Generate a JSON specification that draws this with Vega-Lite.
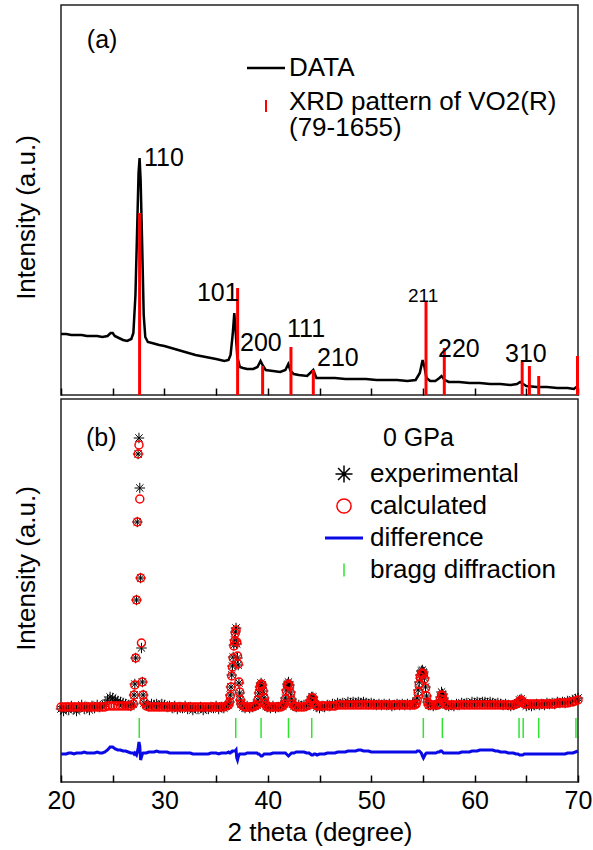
{
  "$schema": "https://vega.github.io/schema/vega-lite/v6.json",
  "padding": {"left": 12, "top": 4, "right": 0, "bottom": 0},
  "spacing": 0,
  "config": {
    "font": "Liberation Sans",
    "view": {"stroke": "#222222", "strokeWidth": 1.5},
    "axis": {"grid": false, "domain": false, "labelColor": "black", "titleColor": "black", "tickColor": "black", "titleFontWeight": "normal", "labelFlush": false},
    "legend": {"labelColor": "black"}
  },
  "resolve": {"scale": {"color": "independent", "x": "independent", "y": "independent"}, "legend": {"color": "independent"}},
  "datasets": {
    "dataA": [
      {"t":20.0,"i":61},{"t":20.5,"i":61},{"t":21.0,"i":60},{"t":21.5,"i":60},{"t":22.0,"i":60},{"t":22.5,"i":59},{"t":23.0,"i":59},{"t":23.5,"i":59},{"t":24.0,"i":58},{"t":24.5,"i":59},{"t":24.8,"i":62},{"t":25.0,"i":62},{"t":25.2,"i":59},{"t":25.6,"i":57},{"t":26.0,"i":55},{"t":26.4,"i":54},{"t":26.8,"i":56},{"t":27.0,"i":62},{"t":27.2,"i":100},{"t":27.35,"i":160},{"t":27.5,"i":222},{"t":27.6,"i":237},{"t":27.7,"i":215},{"t":27.85,"i":150},{"t":28.0,"i":80},{"t":28.15,"i":58},{"t":28.4,"i":53},{"t":28.8,"i":52},{"t":29.5,"i":50},{"t":30.0,"i":49},{"t":31.0,"i":46},{"t":32.0,"i":43},{"t":33.0,"i":40},{"t":34.0,"i":38},{"t":35.0,"i":36},{"t":35.8,"i":34},{"t":36.2,"i":35},{"t":36.4,"i":40},{"t":36.6,"i":60},{"t":36.76,"i":82},{"t":36.9,"i":62},{"t":37.05,"i":38},{"t":37.3,"i":28},{"t":37.6,"i":27},{"t":38.0,"i":26},{"t":38.6,"i":26},{"t":39.0,"i":28},{"t":39.3,"i":34},{"t":39.55,"i":29},{"t":39.8,"i":25},{"t":40.5,"i":24},{"t":41.2,"i":23},{"t":41.7,"i":25},{"t":41.98,"i":31},{"t":42.2,"i":24},{"t":42.5,"i":21},{"t":43.0,"i":20},{"t":43.8,"i":19},{"t":44.2,"i":23},{"t":44.4,"i":25},{"t":44.7,"i":17},{"t":45.5,"i":17},{"t":46.5,"i":17},{"t":47.5,"i":16},{"t":48.5,"i":16},{"t":49.5,"i":16},{"t":50.5,"i":15},{"t":51.5,"i":15},{"t":52.5,"i":15},{"t":53.5,"i":14},{"t":54.3,"i":15},{"t":54.7,"i":22},{"t":54.97,"i":35},{"t":55.15,"i":28},{"t":55.35,"i":17},{"t":55.7,"i":14},{"t":56.2,"i":14},{"t":56.6,"i":17},{"t":56.8,"i":19},{"t":57.1,"i":15},{"t":57.5,"i":13},{"t":58.5,"i":13},{"t":59.5,"i":12},{"t":60.5,"i":12},{"t":61.5,"i":11},{"t":62.5,"i":11},{"t":63.5,"i":10},{"t":64.1,"i":11},{"t":64.4,"i":13},{"t":64.7,"i":11},{"t":65.0,"i":9},{"t":66.0,"i":8},{"t":67.0,"i":8},{"t":68.0,"i":7},{"t":69.0,"i":7},{"t":69.6,"i":6},{"t":69.85,"i":8},{"t":70.0,"i":9}
    ],
    "refA": [
      {"t":27.6,"h":182},{"t":37.08,"h":107},{"t":39.5,"h":29},{"t":42.24,"h":48},{"t":44.4,"h":25},{"t":55.3,"h":94},{"t":57.07,"h":47},{"t":64.6,"h":33},{"t":65.3,"h":29},{"t":66.2,"h":19},{"t":69.95,"h":39}
    ],
    "labelsA": [
      {"t":22.5,"y":355,"label":"(a)"},{"t":28.03,"y":237,"label":"110"},{"t":33.15,"y":102,"label":"101"},{"t":37.31,"y":52,"label":"200"},{"t":41.86,"y":66,"label":"111"},{"t":44.76,"y":37,"label":"210"},{"t":53.56,"y":99,"label":"211"},{"t":56.46,"y":46,"label":"220"},{"t":62.94,"y":41,"label":"310"}
    ],
    "profB": [
      {"t":20.0,"o":73,"c":75,"d":28},{"t":20.25,"o":71,"c":75,"d":28},{"t":20.5,"o":74,"c":75,"d":28},{"t":20.75,"o":72,"c":75,"d":29},{"t":21.0,"o":76,"c":75,"d":29},{"t":21.25,"o":73,"c":75,"d":28},{"t":21.5,"o":71,"c":75,"d":29},{"t":21.75,"o":74,"c":75,"d":29},{"t":22.0,"o":77,"c":75,"d":29},{"t":22.25,"o":73,"c":75,"d":30},{"t":22.5,"o":75,"c":75,"d":29},{"t":22.75,"o":72,"c":75,"d":29},{"t":23.0,"o":76,"c":75,"d":29},{"t":23.25,"o":74,"c":75,"d":29},{"t":23.5,"o":77,"c":75,"d":30},{"t":23.75,"o":75,"c":75,"d":29},{"t":24.0,"o":76,"c":75,"d":29},{"t":24.25,"o":78,"c":75,"d":30},{"t":24.5,"o":82,"c":76,"d":32},{"t":24.75,"o":85,"c":76,"d":35},{"t":25.0,"o":84,"c":76,"d":35},{"t":25.25,"o":82,"c":76,"d":33},{"t":25.5,"o":81,"c":76,"d":32},{"t":25.75,"o":80,"c":76,"d":32},{"t":26.0,"o":79,"c":76,"d":31},{"t":26.25,"o":78,"c":76,"d":31},{"t":26.5,"o":77,"c":76,"d":30},{"t":26.75,"o":76,"c":76,"d":29},
      {"t":27.0,"o":78,"c":78,"d":29},{"t":27.07,"o":87,"c":87,"d":28},{"t":27.14,"o":98,"c":97,"d":29},{"t":27.22,"o":124,"c":124,"d":28},{"t":27.3,"o":182,"c":182,"d":27},{"t":27.38,"o":260,"c":260,"d":30},{"t":27.46,"o":328,"c":328,"d":34},{"t":27.54,"o":344,"c":337,"d":40},{"t":27.62,"o":294,"c":283,"d":36},{"t":27.7,"o":204,"c":204,"d":22},{"t":27.78,"o":134,"c":139,"d":25},{"t":27.87,"o":100,"c":100,"d":28},{"t":27.95,"o":87,"c":87,"d":29},{"t":28.03,"o":79,"c":80,"d":29},
      {"t":28.25,"o":77,"c":76,"d":29},{"t":28.5,"o":76,"c":75,"d":30},{"t":28.75,"o":78,"c":75,"d":30},{"t":29.0,"o":77,"c":75,"d":30},{"t":29.25,"o":78,"c":75,"d":31},{"t":29.5,"o":76,"c":75,"d":30},{"t":29.75,"o":78,"c":75,"d":30},{"t":30.0,"o":77,"c":75,"d":30},{"t":30.25,"o":75,"c":75,"d":30},{"t":30.5,"o":76,"c":75,"d":29},{"t":30.75,"o":74,"c":75,"d":29},{"t":31.0,"o":76,"c":75,"d":29},{"t":31.25,"o":73,"c":75,"d":29},{"t":31.5,"o":75,"c":75,"d":29},{"t":31.75,"o":74,"c":75,"d":29},{"t":32.0,"o":76,"c":75,"d":29},{"t":32.25,"o":73,"c":75,"d":29},{"t":32.5,"o":75,"c":75,"d":29},{"t":32.75,"o":72,"c":75,"d":28},{"t":33.0,"o":74,"c":75,"d":28},{"t":33.25,"o":73,"c":75,"d":28},{"t":33.5,"o":75,"c":75,"d":28},{"t":33.75,"o":72,"c":75,"d":28},{"t":34.0,"o":74,"c":75,"d":28},{"t":34.25,"o":73,"c":75,"d":28},{"t":34.5,"o":75,"c":75,"d":29},{"t":34.75,"o":74,"c":75,"d":29},{"t":35.0,"o":76,"c":75,"d":29},{"t":35.25,"o":73,"c":75,"d":28},{"t":35.5,"o":75,"c":75,"d":29},{"t":35.75,"o":74,"c":75,"d":29},{"t":36.0,"o":76,"c":76,"d":29},{"t":36.2,"o":77,"c":77,"d":30},
      {"t":36.3,"o":80,"c":80,"d":29},{"t":36.37,"o":87,"c":86,"d":29},{"t":36.44,"o":95,"c":95,"d":30},{"t":36.51,"o":107,"c":106,"d":30},{"t":36.58,"o":116,"c":115,"d":31},{"t":36.65,"o":125,"c":124,"d":31},{"t":36.72,"o":137,"c":136,"d":31},{"t":36.79,"o":142,"c":141,"d":31},{"t":36.86,"o":150,"c":149,"d":31},{"t":36.93,"o":154,"c":152,"d":32},{"t":37.0,"o":138,"c":140,"d":24},{"t":37.07,"o":124,"c":126,"d":22},{"t":37.14,"o":117,"c":118,"d":25},{"t":37.21,"o":99,"c":100,"d":27},{"t":37.28,"o":89,"c":90,"d":28},{"t":37.35,"o":82,"c":82,"d":28},{"t":37.42,"o":78,"c":78,"d":28},
      {"t":37.6,"o":75,"c":76,"d":28},{"t":37.8,"o":74,"c":75,"d":28},{"t":38.0,"o":76,"c":75,"d":29},{"t":38.25,"o":74,"c":75,"d":29},{"t":38.5,"o":75,"c":75,"d":29},{"t":38.75,"o":76,"c":76,"d":29},
      {"t":38.95,"o":77,"c":77,"d":29},{"t":39.05,"o":82,"c":82,"d":28},{"t":39.15,"o":89,"c":89,"d":28},{"t":39.25,"o":95,"c":95,"d":27},{"t":39.35,"o":99,"c":98,"d":26},{"t":39.45,"o":97,"c":97,"d":26},{"t":39.55,"o":91,"c":91,"d":27},{"t":39.65,"o":84,"c":84,"d":28},{"t":39.75,"o":79,"c":79,"d":28},{"t":39.85,"o":76,"c":76,"d":28},
      {"t":40.0,"o":75,"c":75,"d":28},{"t":40.25,"o":74,"c":75,"d":28},{"t":40.5,"o":76,"c":75,"d":29},{"t":40.75,"o":74,"c":75,"d":29},{"t":41.0,"o":75,"c":75,"d":29},{"t":41.25,"o":76,"c":75,"d":29},{"t":41.45,"o":76,"c":76,"d":29},
      {"t":41.6,"o":78,"c":78,"d":29},{"t":41.7,"o":84,"c":83,"d":29},{"t":41.8,"o":92,"c":91,"d":28},{"t":41.9,"o":98,"c":97,"d":27},{"t":42.0,"o":100,"c":98,"d":26},{"t":42.1,"o":97,"c":96,"d":27},{"t":42.2,"o":90,"c":89,"d":28},{"t":42.3,"o":83,"c":82,"d":29},{"t":42.4,"o":78,"c":78,"d":29},
      {"t":42.55,"o":76,"c":76,"d":29},{"t":42.75,"o":75,"c":75,"d":30},{"t":43.0,"o":77,"c":75,"d":30},{"t":43.25,"o":76,"c":75,"d":30},{"t":43.5,"o":77,"c":75,"d":30},{"t":43.75,"o":76,"c":76,"d":29},
      {"t":44.0,"o":78,"c":77,"d":29},{"t":44.12,"o":82,"c":81,"d":28},{"t":44.24,"o":85,"c":84,"d":27},{"t":44.36,"o":85,"c":84,"d":27},{"t":44.48,"o":81,"c":80,"d":28},{"t":44.6,"o":77,"c":77,"d":28},
      {"t":44.75,"o":75,"c":76,"d":27},{"t":45.0,"o":74,"c":76,"d":28},{"t":45.25,"o":76,"c":76,"d":28},{"t":45.5,"o":75,"c":76,"d":28},{"t":45.75,"o":77,"c":76,"d":29},{"t":46.0,"o":76,"c":76,"d":29},{"t":46.25,"o":78,"c":76,"d":29},{"t":46.5,"o":77,"c":76,"d":29},{"t":46.75,"o":79,"c":77,"d":30},{"t":47.0,"o":78,"c":77,"d":30},{"t":47.25,"o":79,"c":77,"d":30},{"t":47.5,"o":78,"c":77,"d":30},{"t":47.75,"o":80,"c":77,"d":31},{"t":48.0,"o":79,"c":77,"d":31},{"t":48.25,"o":80,"c":77,"d":31},{"t":48.5,"o":79,"c":77,"d":31},{"t":48.75,"o":80,"c":77,"d":32},{"t":49.0,"o":79,"c":77,"d":32},{"t":49.25,"o":80,"c":77,"d":31},{"t":49.5,"o":79,"c":77,"d":31},{"t":49.75,"o":78,"c":77,"d":31},{"t":50.0,"o":79,"c":77,"d":30},{"t":50.25,"o":78,"c":77,"d":30},{"t":50.5,"o":77,"c":77,"d":30},{"t":50.75,"o":78,"c":77,"d":30},{"t":51.0,"o":77,"c":77,"d":30},{"t":51.25,"o":78,"c":77,"d":30},{"t":51.5,"o":77,"c":77,"d":30},{"t":51.75,"o":78,"c":77,"d":30},{"t":52.0,"o":76,"c":77,"d":30},{"t":52.25,"o":77,"c":77,"d":30},{"t":52.5,"o":78,"c":77,"d":30},{"t":52.75,"o":77,"c":77,"d":30},{"t":53.0,"o":78,"c":77,"d":30},{"t":53.25,"o":77,"c":77,"d":30},{"t":53.5,"o":78,"c":77,"d":30},{"t":53.75,"o":77,"c":77,"d":30},{"t":54.0,"o":78,"c":77,"d":30},{"t":54.2,"o":78,"c":77,"d":30},
      {"t":54.35,"o":79,"c":78,"d":30},{"t":54.45,"o":84,"c":82,"d":31},{"t":54.55,"o":92,"c":90,"d":31},{"t":54.65,"o":100,"c":98,"d":31},{"t":54.75,"o":107,"c":105,"d":30},{"t":54.85,"o":111,"c":108,"d":29},{"t":54.95,"o":112,"c":109,"d":26},{"t":55.05,"o":110,"c":108,"d":24},{"t":55.15,"o":104,"c":103,"d":26},{"t":55.25,"o":95,"c":94,"d":28},{"t":55.35,"o":86,"c":86,"d":29},{"t":55.45,"o":80,"c":80,"d":29},{"t":55.55,"o":77,"c":77,"d":29},
      {"t":55.75,"o":77,"c":77,"d":29},{"t":56.0,"o":76,"c":77,"d":29},{"t":56.25,"o":77,"c":77,"d":29},{"t":56.45,"o":78,"c":77,"d":30},
      {"t":56.6,"o":79,"c":78,"d":30},{"t":56.7,"o":85,"c":83,"d":31},{"t":56.8,"o":90,"c":87,"d":31},{"t":56.9,"o":88,"c":86,"d":30},{"t":57.0,"o":84,"c":82,"d":29},{"t":57.1,"o":79,"c":79,"d":29},
      {"t":57.25,"o":77,"c":77,"d":29},{"t":57.5,"o":76,"c":77,"d":29},{"t":57.75,"o":77,"c":77,"d":29},{"t":58.0,"o":76,"c":77,"d":29},{"t":58.25,"o":78,"c":77,"d":29},{"t":58.5,"o":77,"c":77,"d":29},{"t":58.75,"o":79,"c":77,"d":30},{"t":59.0,"o":78,"c":77,"d":30},{"t":59.25,"o":79,"c":77,"d":30},{"t":59.5,"o":78,"c":77,"d":30},{"t":59.75,"o":80,"c":77,"d":31},{"t":60.0,"o":79,"c":77,"d":31},{"t":60.25,"o":80,"c":77,"d":31},{"t":60.5,"o":79,"c":77,"d":32},{"t":60.75,"o":80,"c":77,"d":32},{"t":61.0,"o":80,"c":77,"d":32},{"t":61.25,"o":79,"c":77,"d":32},{"t":61.5,"o":80,"c":77,"d":32},{"t":61.75,"o":79,"c":77,"d":32},{"t":62.0,"o":78,"c":77,"d":31},{"t":62.25,"o":79,"c":77,"d":31},{"t":62.5,"o":78,"c":77,"d":30},{"t":62.75,"o":77,"c":77,"d":30},{"t":63.0,"o":78,"c":77,"d":30},{"t":63.25,"o":77,"c":77,"d":29},{"t":63.5,"o":76,"c":77,"d":29},{"t":63.75,"o":77,"c":77,"d":29},{"t":64.0,"o":78,"c":78,"d":28},
      {"t":64.2,"o":79,"c":79,"d":28},{"t":64.35,"o":82,"c":81,"d":27},{"t":64.5,"o":83,"c":82,"d":27},{"t":64.65,"o":81,"c":80,"d":27},{"t":64.8,"o":79,"c":78,"d":28},
      {"t":65.0,"o":76,"c":78,"d":28},{"t":65.25,"o":77,"c":78,"d":28},{"t":65.5,"o":76,"c":78,"d":28},{"t":65.75,"o":77,"c":78,"d":28},{"t":66.0,"o":78,"c":78,"d":28},{"t":66.25,"o":77,"c":78,"d":28},{"t":66.5,"o":78,"c":78,"d":28},{"t":66.75,"o":77,"c":78,"d":28},{"t":67.0,"o":79,"c":78,"d":28},{"t":67.25,"o":78,"c":78,"d":28},{"t":67.5,"o":79,"c":78,"d":28},{"t":67.75,"o":78,"c":78,"d":28},{"t":68.0,"o":80,"c":79,"d":28},{"t":68.25,"o":79,"c":79,"d":28},{"t":68.5,"o":80,"c":79,"d":28},{"t":68.75,"o":79,"c":79,"d":28},{"t":69.0,"o":81,"c":79,"d":29},{"t":69.25,"o":80,"c":80,"d":29},{"t":69.5,"o":82,"c":80,"d":29},{"t":69.75,"o":83,"c":81,"d":30},{"t":70.0,"o":84,"c":82,"d":31}
    ],
    "braggB": [
      {"t":27.57},{"t":36.9},{"t":39.35},{"t":42.0},{"t":44.25},{"t":55.04},{"t":56.88},{"t":64.3},{"t":64.7},{"t":66.2},{"t":69.8}
    ],
    "labelsB": [
      {"t":22.42,"y":344,"label":"(b)"},{"t":51.14,"y":344,"label":"0 GPa"}
    ]
  },
  "vconcat": [
    {
      "width": 517,
      "height": 390,
      "layer": [
        {
          "data": {"name": "dataA"},
          "mark": {"type": "line", "strokeWidth": 2.5},
          "encoding": {
            "x": {"field": "t", "type": "quantitative", "scale": {"domain": [20, 70], "nice": false},
              "axis": {"values": [20,25,30,35,40,45,50,55,60,65,70], "labels": false, "title": null, "tickSize": -7, "tickWidth": 1.5}},
            "y": {"field": "i", "type": "quantitative", "scale": {"domain": [0, 390], "nice": false},
              "axis": {"title": "Intensity (a.u.)", "labels": false, "ticks": false, "titleFontSize": 26, "titlePadding": 22, "titleY": 212}},
            "color": {"datum": "DATA", "type": "nominal",
              "scale": {"domain": ["DATA", "XRD pattern of VO2(R)"], "range": ["#000000", "#ff0000"]},
              "legend": {
                "orient": "none", "legendX": 192, "legendY": 50, "title": null, "padding": 0,
                "symbolSize": 1444, "symbolStrokeWidth": 2.5, "labelFontSize": 26, "labelOffset": 10, "rowPadding": 8, "labelLimit": 500,
                "labelExpr": "datum.value == 'XRD pattern of VO2(R)' ? ['XRD pattern of VO2(R)', '(79-1655)'] : datum.label",
                "encode": {
                  "symbols": {"update": {
                    "shape": {"signal": "datum.value == 'DATA' ? 'stroke' : 'M0,-0.33L0,1.67'"},
                    "size": {"signal": "datum.value == 'DATA' ? 1444 : 144"},
                    "stroke": {"signal": "datum.value == 'DATA' ? '#000000' : '#ff0000'"},
                    "fill": {"value": "transparent"},
                    "strokeWidth": {"signal": "datum.value == 'DATA' ? 2.5 : 2"},
                    "opacity": {"value": 1}
                  }},
                  "labels": {"update": {
                    "lineHeight": {"value": 26}
                  }}
                }
              }}
          }
        },
        {
          "data": {"name": "refA"},
          "mark": {"type": "rule", "strokeWidth": 3},
          "encoding": {
            "x": {"field": "t", "type": "quantitative"},
            "y": {"field": "h", "type": "quantitative"},
            "y2": {"datum": 0},
            "color": {"datum": "XRD pattern of VO2(R)", "type": "nominal"}
          }
        },
        {
          "data": {"name": "labelsA"},
          "mark": {"type": "text", "align": "left", "baseline": "middle", "color": "black"},
          "encoding": {
            "x": {"field": "t", "type": "quantitative"},
            "y": {"field": "y", "type": "quantitative"},
            "text": {"field": "label"},
            "size": {"condition": {"test": "datum.label == '211'", "value": 19}, "value": 25}
          }
        }
      ]
    },
    {
      "width": 517,
      "height": 383,
      "layer": [
        {
          "data": {"name": "profB"},
          "mark": {"type": "line", "strokeWidth": 3},
          "encoding": {
            "x": {"field": "t", "type": "quantitative", "scale": {"domain": [20, 70], "nice": false},
              "axis": {"values": [20,25,30,35,40,45,50,55,60,65,70], "labelExpr": "datum.value % 10 == 0 ? datum.label : ''", "labelFontSize": 25, "labelPadding": 13, "tickSize": -7, "tickWidth": 1.5, "title": "2 theta (degree)", "titleFontSize": 26, "titlePadding": 6}},
            "y": {"field": "d", "type": "quantitative", "scale": {"domain": [0, 383], "nice": false},
              "axis": {"title": "Intensity (a.u.)", "labels": false, "ticks": false, "titleFontSize": 26, "titlePadding": 22, "titleY": 169}},
            "color": {"datum": "difference", "type": "nominal",
              "scale": {"domain": ["experimental", "calculated", "difference", "bragg diffraction"], "range": ["#000000", "#ff0000", "#0a0ae6", "#2ee62e"]},
              "legend": {
                "orient": "none", "legendX": 270, "legendY": 62, "title": null, "padding": 0,
                "symbolSize": 1444, "symbolStrokeWidth": 2, "labelFontSize": 26, "labelOffset": 13, "rowPadding": 6, "labelLimit": 500,
                "encode": {
                  "symbols": {"update": {
                    "shape": {"signal": "datum.value == 'experimental' ? 'M-1,0L1,0M0,-1L0,1M-0.7,-0.7L0.7,0.7M-0.7,0.7L0.7,-0.7' : datum.value == 'calculated' ? 'circle' : datum.value == 'difference' ? 'stroke' : 'M0,-1L0,1'"},
                    "size": {"signal": "datum.value == 'experimental' ? 289 : datum.value == 'calculated' ? 200 : datum.value == 'difference' ? 1444 : 169"},
                    "stroke": {"signal": "datum.value == 'experimental' ? '#000000' : datum.value == 'calculated' ? '#ff0000' : datum.value == 'difference' ? '#0a0ae6' : '#2ee62e'"},
                    "fill": {"value": "transparent"},
                    "strokeWidth": {"signal": "datum.value == 'difference' ? 3 : 1.5"},
                    "opacity": {"value": 1}
                  }}
                }
              }}
          }
        },
        {
          "data": {"name": "braggB"},
          "mark": {"type": "rule", "strokeWidth": 1.5},
          "encoding": {
            "x": {"field": "t", "type": "quantitative"},
            "y": {"datum": 64},
            "y2": {"datum": 44},
            "color": {"datum": "bragg diffraction", "type": "nominal"}
          }
        },
        {
          "data": {"name": "profB"},
          "mark": {"type": "point", "shape": "M-1,0L1,0M0,-1L0,1M-0.7,-0.7L0.7,0.7M-0.7,0.7L0.7,-0.7", "filled": false, "size": 110, "strokeWidth": 1, "opacity": 1},
          "encoding": {
            "x": {"field": "t", "type": "quantitative"},
            "y": {"field": "o", "type": "quantitative"},
            "color": {"datum": "experimental", "type": "nominal"}
          }
        },
        {
          "data": {"name": "profB"},
          "mark": {"type": "point", "shape": "circle", "filled": false, "size": 64, "strokeWidth": 1.5, "opacity": 1},
          "encoding": {
            "x": {"field": "t", "type": "quantitative"},
            "y": {"field": "c", "type": "quantitative"},
            "color": {"datum": "calculated", "type": "nominal"}
          }
        },
        {
          "data": {"name": "labelsB"},
          "mark": {"type": "text", "align": "left", "baseline": "middle", "color": "black", "fontSize": 25},
          "encoding": {
            "x": {"field": "t", "type": "quantitative"},
            "y": {"field": "y", "type": "quantitative"},
            "text": {"field": "label"}
          }
        }
      ]
    }
  ]
}
